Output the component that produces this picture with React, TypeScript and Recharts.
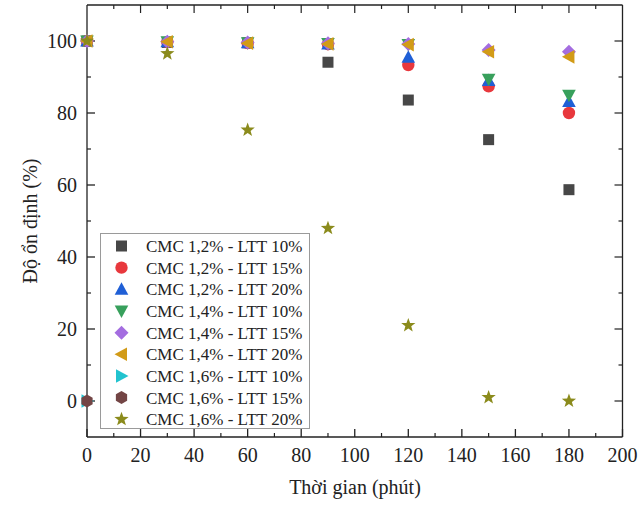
import React from 'react';
import { ScatterChart, Scatter, XAxis, YAxis, ReferenceLine } from 'recharts';

const TIMES = [0, 30, 60, 90, 120, 150, 180];
const CMC12_LTT10 = [100, 99.6, 99.5, 94.1, 83.6, 72.6, 58.7];
const CMC12_LTT15 = [100, 99.7, 99.4, 99.1, 93.3, 87.4, 80.0];
const CMC12_LTT20 = [100, 99.8, 99.5, 99.2, 95.5, 89.0, 83.2];
const CMC14_LTT10 = [100, 99.8, 99.5, 99.3, 99.0, 89.4, 84.9];
const CMC14_LTT15 = [100, 99.8, 99.6, 99.4, 99.2, 97.5, 97.0];
const CMC14_LTT20 = [100, 99.8, 99.4, 99.2, 99.0, 97.0, 95.6];
const CMC16_LTT10 = [0];
const CMC16_LTT15 = [0];
const CMC16_LTT20 = [100, 96.5, 75.3, 48.0, 21.0, 1.0, 0.0];

const X_DOMAIN = [0, 200];
const Y_DOMAIN = [-10, 110];
const X_TICKS = [0, 20, 40, 60, 80, 100, 120, 140, 160, 180, 200];
const X_MINOR = [10, 30, 50, 70, 90, 110, 130, 150, 170, 190];
const Y_TICKS = [0, 20, 40, 60, 80, 100];
const Y_MINOR = [10, 30, 50, 70, 90];
const X_TITLE = 'Thời gian (phút)';
const Y_TITLE = 'Độ ổn định (%)';

const SERIES = [
  { name: 'CMC 1,2% - LTT 10%', values: CMC12_LTT10, kind: 'square', color: '#474747' },
  { name: 'CMC 1,2% - LTT 15%', values: CMC12_LTT15, kind: 'circle', color: '#e8383d' },
  { name: 'CMC 1,2% - LTT 20%', values: CMC12_LTT20, kind: 'up', color: '#1f5fd6' },
  { name: 'CMC 1,4% - LTT 10%', values: CMC14_LTT10, kind: 'down', color: '#38a05c' },
  { name: 'CMC 1,4% - LTT 15%', values: CMC14_LTT15, kind: 'diamond', color: '#a46de0' },
  { name: 'CMC 1,4% - LTT 20%', values: CMC14_LTT20, kind: 'left', color: '#d29b17' },
  { name: 'CMC 1,6% - LTT 10%', values: CMC16_LTT10, kind: 'right', color: '#22c3cf' },
  { name: 'CMC 1,6% - LTT 15%', values: CMC16_LTT15, kind: 'hexagon', color: '#734545' },
  { name: 'CMC 1,6% - LTT 20%', values: CMC16_LTT20, kind: 'star', color: '#8b8b1c' },
];

const FONT = '"Liberation Serif", "Times New Roman", serif';
const AXIS_COLOR = '#222';

// tick lengths expressed in axis units (8px major, 4px minor at this chart size)
const X_UNIT_PX = 535.5 / 200;
const Y_UNIT_PX = 432 / 120;
const MAJOR_PX = 8;
const MINOR_PX = 4;

function Marker({ kind, cx, cy, color }: { kind: string; cx: number; cy: number; color: string }) {
  if (cx == null || cy == null || isNaN(cx) || isNaN(cy)) return null;
  const pts = (arr: number[][]) => arr.map(([a, b]) => `${cx + a},${cy + b}`).join(' ');
  switch (kind) {
    case 'square':
      return <rect x={cx - 5.5} y={cy - 5.5} width={11} height={11} fill={color} />;
    case 'circle':
      return <circle cx={cx} cy={cy} r={6.2} fill={color} />;
    case 'up':
      return <polygon points={pts([[0, -7], [6.8, 5.5], [-6.8, 5.5]])} fill={color} />;
    case 'down':
      return <polygon points={pts([[0, 7], [6.8, -5.5], [-6.8, -5.5]])} fill={color} />;
    case 'left':
      return <polygon points={pts([[-7, 0], [5.5, -6.8], [5.5, 6.8]])} fill={color} />;
    case 'right':
      return <polygon points={pts([[7, 0], [-5.5, -6.8], [-5.5, 6.8]])} fill={color} />;
    case 'diamond':
      return <polygon points={pts([[0, -7], [7, 0], [0, 7], [-7, 0]])} fill={color} />;
    case 'hexagon': {
      const a: number[][] = [];
      for (let i = 0; i < 6; i++) {
        const t = (Math.PI / 3) * i - Math.PI / 2;
        a.push([6.5 * Math.cos(t), 6.5 * Math.sin(t)]);
      }
      return <polygon points={pts(a)} fill={color} />;
    }
    case 'star': {
      const a: number[][] = [];
      for (let i = 0; i < 10; i++) {
        const r = i % 2 === 0 ? 7.5 : 3.1;
        const t = (Math.PI / 5) * i - Math.PI / 2;
        a.push([r * Math.cos(t), r * Math.sin(t)]);
      }
      return <polygon points={pts(a)} fill={color} />;
    }
    default:
      return null;
  }
}

function LegendBox() {
  const rowH = 21.66;
  return (
    <svg width={211} height={197} style={{ position: 'absolute', left: 100, top: 233, display: 'block' }}>
      <rect x={0.5} y={0.5} width={209} height={195} fill="#fff" stroke="#9a9a9a" strokeWidth={1} />
      {SERIES.map((s, i) => {
        const y = 13 + i * rowH;
        return (
          <g key={s.name}>
            <Marker kind={s.kind} cx={21.5} cy={y} color={s.color} />
            <text x={46} y={y} dy="0.35em" fontFamily={FONT} fontSize={17} fill="#222">
              {s.name}
            </text>
          </g>
        );
      })}
    </svg>
  );
}

function Overlay() {
  return (
    <svg width={640} height={514} style={{ position: 'absolute', left: 0, top: 0, pointerEvents: 'none' }}>
      <line x1={87} y1={5} x2={622.5} y2={5} stroke={AXIS_COLOR} strokeWidth={1.3} />
      <line x1={622.5} y1={5} x2={622.5} y2={437} stroke={AXIS_COLOR} strokeWidth={1.3} />
      <text x={355} y={494} textAnchor="middle" fontFamily={FONT} fontSize={20} fill="#222">{X_TITLE}</text>
      <text x={37} y={221} textAnchor="middle" fontFamily={FONT} fontSize={20} fill="#222" transform="rotate(-90 37 221)">{Y_TITLE}</text>
    </svg>
  );
}

// inward tick segments for the minor ticks and for the top/right frame sides
function tickSegments() {
  const segs: { key: string; seg: { x: number; y: number }[] }[] = [];
  const [x0, x1] = X_DOMAIN;
  const [y0, y1] = Y_DOMAIN;
  const dyM = MAJOR_PX / Y_UNIT_PX;
  const dym = MINOR_PX / Y_UNIT_PX;
  const dxM = MAJOR_PX / X_UNIT_PX;
  const dxm = MINOR_PX / X_UNIT_PX;
  X_TICKS.slice(1, -1).forEach((v) => {
    segs.push({ key: `tM${v}`, seg: [{ x: v, y: y1 }, { x: v, y: y1 - dyM }] });
  });
  X_MINOR.forEach((v) => {
    segs.push({ key: `bm${v}`, seg: [{ x: v, y: y0 }, { x: v, y: y0 + dym }] });
    segs.push({ key: `tm${v}`, seg: [{ x: v, y: y1 }, { x: v, y: y1 - dym }] });
  });
  Y_TICKS.forEach((v) => {
    segs.push({ key: `rM${v}`, seg: [{ x: x1, y: v }, { x: x1 - dxM, y: v }] });
  });
  Y_MINOR.forEach((v) => {
    segs.push({ key: `lm${v}`, seg: [{ x: x0, y: v }, { x: x0 + dxm, y: v }] });
    segs.push({ key: `rm${v}`, seg: [{ x: x1, y: v }, { x: x1 - dxm, y: v }] });
  });
  return segs;
}

export default function App() {
  const segs = tickSegments();
  const tickText = { fontFamily: FONT, fontSize: 20, fill: '#222' };
  return (
    <div style={{ position: 'absolute', left: 0, top: 0, width: 640, height: 514, background: '#fff' }}>
      <ScatterChart width={640} height={514} margin={{ top: 5, right: 17.5, bottom: 0, left: 0 }}>
        <XAxis xAxisId="x" type="number" dataKey="x" domain={X_DOMAIN} ticks={X_TICKS} height={77}
          tickSize={-8} tickMargin={19} tick={tickText} tickLine={{ stroke: AXIS_COLOR, strokeWidth: 1.3 }}
          axisLine={{ stroke: AXIS_COLOR, strokeWidth: 1.3 }} interval={0} />
        <YAxis yAxisId="y" type="number" dataKey="y" domain={Y_DOMAIN} ticks={Y_TICKS} width={87}
          tickSize={-8} tickMargin={18} tick={tickText} tickLine={{ stroke: AXIS_COLOR, strokeWidth: 1.3 }}
          axisLine={{ stroke: AXIS_COLOR, strokeWidth: 1.3 }} interval={0} />
        {segs.map((s) => (
          <ReferenceLine key={s.key} xAxisId="x" yAxisId="y" segment={s.seg} stroke={AXIS_COLOR} strokeWidth={1.2} ifOverflow="visible" />
        ))}
        {SERIES.map((s) => (
          <Scatter
            key={s.name}
            name={s.name}
            xAxisId="x"
            yAxisId="y"
            data={s.values.map((v, i) => ({ x: TIMES[i], y: v }))}
            isAnimationActive={false}
            shape={(p: any) => <Marker kind={s.kind} cx={p.cx} cy={p.cy} color={s.color} />}
          />
        ))}
      </ScatterChart>
      <Overlay />
      <LegendBox />
    </div>
  );
}
